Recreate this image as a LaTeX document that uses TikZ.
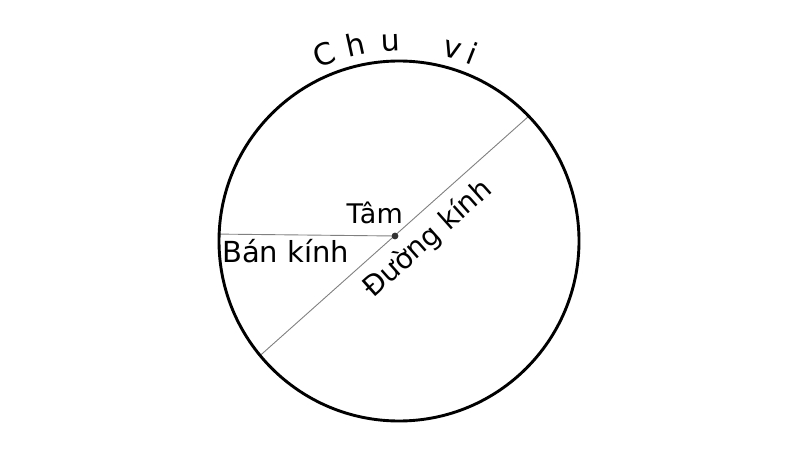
\documentclass[tikz,border=0pt]{standalone}
\usepackage{fontspec}
\setmainfont{DejaVu Sans}
\usepackage{tikz}
\usetikzlibrary{calc}

\begin{document}
\begin{tikzpicture}[
    x=1pt, y=1pt,
    rim/.style={draw=black, line width=2.9pt},
    chord/.style={draw=black!50, line width=0.9pt},
    lbl/.style={font=\fontsize{27}{30}\selectfont, inner sep=0pt},
    arclbl/.style={font=\fontsize{30}{32}\selectfont, inner sep=0pt, anchor=base},
]
\useasboundingbox (0,0) rectangle (800,450);

% === Circle and its points ===
\coordinate (O) at (399, 209);
\coordinate (dot) at (395, 214);
\coordinate (rl) at ($(O)+(177.8:180)$);
\coordinate (d1) at ($(O)+(219.5:179)$);
\coordinate (d2) at ($(O)+(43.9:179)$);

% === Radius and diameter ===
\draw[chord] (rl) -- (dot);
\draw[chord] (d1) -- (d2);

\draw[rim] (O) circle (180);
\fill[black!80] (dot) circle (3.4);

% === Labels ===
\node[lbl, anchor=base east] (tam) at (403, 226) {Tâm};
\node[lbl, anchor=base west, font=\fontsize{29}{31}\selectfont] (bk) at (222, 187) {Bán kính};
\node[lbl, rotate=41.75, font=\fontsize{28}{30}\selectfont] (dk) at (428, 211) {Đường kính};

% Letters of the perimeter label along the rim
\foreach \a/\c in {112/C, 102.5/h, 92.5/u, 74.5/v, 68.5/i}{
    \node[arclbl, rotate=\a-90] at ($(O)+(\a:190)$) {\c};
}

\end{tikzpicture}
\end{document}
